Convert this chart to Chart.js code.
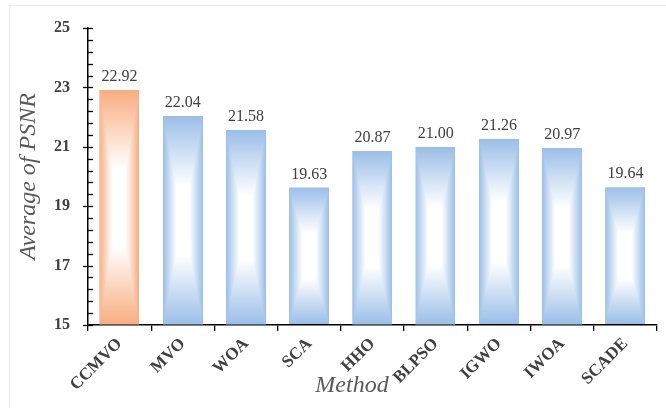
<!DOCTYPE html>
<html>
<head>
<meta charset="utf-8">
<script src="https://cdn.jsdelivr.net/npm/chart.js@4.4.1/dist/chart.umd.min.js"></script>
<style>
  html, body { margin: 0; padding: 0; background: #fff; }
  #wrap { width: 666px; height: 408px; }
</style>
</head>
<body>
<div id="wrap"><canvas id="psnr_chart" width="666" height="408"></canvas></div>
<script>
// chart data
const methods = ["CCMVO", "MVO", "WOA", "SCA", "HHO", "BLPSO", "IGWO", "IWOA", "SCADE"];
const avgPsnr = [22.92, 22.04, 21.58, 19.63, 20.87, 21.00, 21.26, 20.97, 19.64];
const yMin = 15, yMax = 25, yMinorStep = 0.4;

const ORANGE = [249, 172, 128];
const BLUE = [154, 190, 232];
const TEXT = "#404040";

// rectangle "from centre" gradient, white in the middle, colour at the edges
function rectGradient(ctx, left, top, w, h, rgb) {
    const W = Math.max(1, Math.round(w)), H = Math.max(1, Math.round(h));
    const off = document.createElement("canvas");
    off.width = W; off.height = H;
    const g = off.getContext("2d");
    const img = g.createImageData(W, H);
    for (let y = 0; y < H; y++) {
        for (let x = 0; x < W; x++) {
            const tx = Math.abs(x + 0.5 - W / 2) / (W / 2);
            const ty = Math.abs(y + 0.5 - H / 2) / (H / 2);
            const t = Math.max(tx, ty);
            const s = Math.min(1, Math.max(0, (t - 0.33) / 0.67));
            const k = (y * W + x) * 4;
            img.data[k] = 255 + (rgb[0] - 255) * s;
            img.data[k + 1] = 255 + (rgb[1] - 255) * s;
            img.data[k + 2] = 255 + (rgb[2] - 255) * s;
            img.data[k + 3] = 255;
        }
    }
    g.putImageData(img, 0, 0);
    const pat = ctx.createPattern(off, "no-repeat");
    pat.setTransform(new DOMMatrix().translate(Math.round(left), Math.round(top)));
    return pat;
}

const barStyle = {
    id: "barStyle",
    beforeDraw(chart) {
        const c = chart.ctx;
        c.save();
        c.strokeStyle = "#ececec";
        c.lineWidth = 1;
        c.strokeRect(9.5, 5.5, 680, 420);
        c.restore();
    },
    beforeDatasetsDraw(chart) {
        const meta = chart.getDatasetMeta(0);
        meta.data.forEach((el, i) => {
            const left = el.x - el.width / 2;
            const top = Math.min(el.y, el.base);
            const h = Math.abs(el.base - el.y);
            el.options.backgroundColor = rectGradient(chart.ctx, left, top, el.width, h, i === 0 ? ORANGE : BLUE);
        });
    },
    afterDatasetsDraw(chart) {
        const c = chart.ctx;
        const meta = chart.getDatasetMeta(0);
        c.save();
        c.fillStyle = TEXT;
        c.font = "16px 'Liberation Serif', 'Times New Roman', serif";
        c.textAlign = "center";
        c.textBaseline = "bottom";
        meta.data.forEach((el, i) => {
            c.fillText(avgPsnr[i].toFixed(2), el.x, el.y - 5);
        });
        c.restore();
    },
    afterDraw(chart) {
        const c = chart.ctx;
        const ys = chart.scales.y;
        const x0 = ys.right;
        c.save();
        c.strokeStyle = "#000";
        c.lineWidth = 1.3;
        // y ticks: majors cross the axis, minors point inwards
        ys.ticks.forEach(t => {
            const py = Math.round(ys.getPixelForValue(t.value)) + 0.5;
            const major = t.label !== "";
            c.beginPath();
            c.moveTo(major ? x0 - 5 : x0, py);
            c.lineTo(x0 + 5, py);
            c.stroke();
        });
        // x axis title
        c.fillStyle = "#595959";
        c.font = "italic 24px 'Liberation Serif', 'Times New Roman', serif";
        c.textAlign = "center";
        c.textBaseline = "middle";
        c.fillText("Method", 352, 386);
        c.restore();
    }
};

new Chart(document.getElementById("psnr_chart"), {
    type: "bar",
    data: {
        labels: methods,
        datasets: [{
            label: "Average of PSNR",
            data: avgPsnr,
            base: yMin,
            backgroundColor: ctx => ctx.dataIndex === 0 ? "rgb(249,172,128)" : "rgb(154,190,232)",
            borderWidth: 0,
            categoryPercentage: 1,
            barPercentage: 0.64
        }]
    },
    options: {
        responsive: false,
        animation: false,
        layout: { padding: { left: 0, top: 28, right: 9, bottom: 0 } },
        plugins: {
            legend: { display: false },
            tooltip: { enabled: false }
        },
        scales: {
            x: {
                offset: true,
                grid: {
                    display: true,
                    offset: true,
                    drawOnChartArea: false,
                    drawTicks: true,
                    tickLength: 6,
                    color: "#000",
                    lineWidth: 1.3
                },
                border: { display: true, color: "#000", width: 1.5 },
                ticks: {
                    color: TEXT,
                    font: { family: "'Liberation Serif', 'Times New Roman', serif", size: 17, weight: "bold" },
                    minRotation: 45,
                    maxRotation: 45,
                    padding: 3,
                    autoSkip: false
                },
                afterFit(scale) { scale.height = 83; }
            },
            y: {
                min: yMin,
                max: yMax,
                grid: {
                    display: true,
                    drawOnChartArea: false,
                    drawTicks: true,
                    tickLength: 5,
                    color: "rgba(0,0,0,0)"
                },
                border: { display: true, color: "#000", width: 1.5 },
                ticks: {
                    stepSize: yMinorStep,
                    autoSkip: false,
                    color: TEXT,
                    padding: 13,
                    font: { family: "'Liberation Serif', 'Times New Roman', serif", size: 16, weight: "bold" },
                    callback: v => {
                        const r = Math.round(v * 10) / 10;
                        return (Number.isInteger(r) && (r - yMin) % 2 === 0) ? String(r) : "";
                    }
                },
                title: {
                    display: true,
                    text: "Average of PSNR",
                    color: "#595959",
                    font: { family: "'Liberation Serif', 'Times New Roman', serif", size: 24, style: "italic" },
                    padding: { top: 14, bottom: 0 }
                },
                afterFit(scale) { scale.width = 88; }
            }
        }
    },
    plugins: [barStyle]
});
</script>
</body>
</html>
